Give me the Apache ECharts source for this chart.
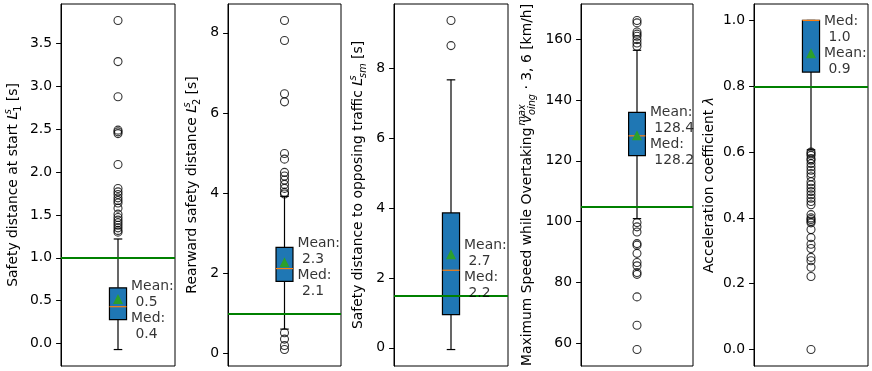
<!DOCTYPE html>
<html>
<head>
<meta charset="utf-8">
<script src="https://cdn.jsdelivr.net/npm/echarts@6/dist/echarts.min.js"></script>
<style>
  html, body { margin: 0; padding: 0; background: #fff; }
  #chart { width: 872px; height: 371px; }
</style>
</head>
<body>
<div id="chart"></div>
<script>
'use strict'

// five box plots, one per panel
var whiskerLow  = [-0.07, 0.61, -0.05, 101.0, 0.607];
var quart1      = [0.28, 1.80, 0.95, 121.7, 0.843];
var medians     = [0.43, 2.12, 2.22, 128.2, 1.0];
var quart3      = [0.65, 2.65, 3.86, 135.9, 1.0];
var whiskerHigh = [1.22, 3.92, 7.67, 156.3, 1.0];
var means       = [0.52, 2.28, 2.68, 128.4, 0.90];
var thresholds  = [1.0, 1.0, 1.5, 105, 0.8];

var outliers1 = [3.77, 3.29, 2.88, 2.49, 2.47, 2.45, 2.09, 1.81, 1.77, 1.74, 1.70, 1.67,
    1.64, 1.58, 1.51, 1.47, 1.44, 1.41, 1.38, 1.35, 1.32, 1.30];
var outliers2 = [8.31, 7.81, 6.48, 6.28, 4.99, 4.85, 4.52, 4.43, 4.33, 4.22, 4.12, 4.02,
    3.98, 0.52, 0.36, 0.20, 0.10];
var outliers3 = [9.37, 8.65];
var outliers4 = [166.1, 165.3, 162.3, 161.6, 160.9, 159.8, 158.7, 157.6, 99.7, 98.3, 96.6,
    92.8, 92.3, 89.6, 86.6, 85.5, 83.3, 82.7, 75.3, 66.0, 58.0];
var outliers5 = [0.60, 0.595, 0.59, 0.58, 0.575, 0.565, 0.555, 0.545, 0.535, 0.525, 0.51,
    0.50, 0.49, 0.48, 0.47, 0.46, 0.45, 0.44, 0.41, 0.40, 0.395, 0.39, 0.385, 0.365, 0.34,
    0.32, 0.307, 0.28, 0.27, 0.25, 0.222, 0.0];

var ticks1 = [0, 0.5, 1, 1.5, 2, 2.5, 3, 3.5];
var ticks2 = [0, 2, 4, 6, 8];
var ticks3 = [0, 2, 4, 6, 8];
var ticks4 = [60, 80, 100, 120, 140, 160];
var ticks5 = [0, 0.2, 0.4, 0.6, 0.8, 1.0];
var tickDecimals = [1, 0, 0, 0, 1];

var yNames = [
    'Safety distance at start {it|L}{sup|s}{sub|1} [s]',
    'Rearward safety distance {it|L}{sup|s}{sub|2} [s]',
    'Safety distance to opposing traffic {it|L}{sup|s}{subi|sm} [s]',
    'Maximum Speed while Overtaking {it|v}{supw|max}{subi|oing} \u00b7 3, 6 [km/h]',
    'Acceleration coefficient {it|\u03bb}'
];
var medFirst = [false, false, false, false, true];

var outliers = [outliers1, outliers2, outliers3, outliers4, outliers5];
var ticks = [ticks1, ticks2, ticks3, ticks4, ticks5];

// layout
var FONT = 'DejaVu Sans';
var FS = 13.9;
var SFS = 9.7;
var gridLeft = [61, 228, 394, 581, 754];
var gridWidth = [114, 113, 114, 112, 114];
var nameGaps = [38, 26, 26, 44, 34];
var labelY = [0.39, 2.15, 2.24, 128.1, 0.925];
var BOX_W = 0.15;

function renderBox(params, api) {
    var x = api.value(0);
    var lo = api.coord([x, api.value(1)]);
    var b1 = api.coord([x, api.value(2)]);
    var md = api.coord([x, api.value(3)]);
    var b3 = api.coord([x, api.value(4)]);
    var hi = api.coord([x, api.value(5)]);
    var half = api.size([BOX_W, 0])[0] / 2;
    var cx = lo[0];
    var black = { stroke: '#000', lineWidth: 1.2 };
    return {
        type: 'group',
        children: [
            { type: 'line', shape: { x1: cx, y1: lo[1], x2: cx, y2: b1[1] }, style: black },
            { type: 'line', shape: { x1: cx, y1: b3[1], x2: cx, y2: hi[1] }, style: black },
            { type: 'line', shape: { x1: cx - half / 2, y1: lo[1], x2: cx + half / 2, y2: lo[1] }, style: black },
            { type: 'line', shape: { x1: cx - half / 2, y1: hi[1], x2: cx + half / 2, y2: hi[1] }, style: black },
            { type: 'rect', shape: { x: cx - half, y: b3[1], width: 2 * half, height: b1[1] - b3[1] },
              style: { fill: '#1f77b4', stroke: '#000', lineWidth: 1.2 } },
            { type: 'line', shape: { x1: cx - half, y1: md[1], x2: cx + half, y2: md[1] },
              style: { stroke: '#ff7f0e', lineWidth: 1.2 } }
        ]
    };
}

var grids = [], xAxes = [], yAxes = [], series = [];

for (var i = 0; i < 5; i++) {
    var lo = Math.min(whiskerLow[i], Math.min.apply(null, outliers[i]));
    var hi = Math.max(whiskerHigh[i], Math.max.apply(null, outliers[i]));
    var pad = (hi - lo) * 0.05;
    var dec = tickDecimals[i];

    grids.push({
        left: gridLeft[i], top: 4, width: gridWidth[i], height: 362,
        show: true, borderColor: '#000', borderWidth: 1
    });
    xAxes.push({ type: 'value', gridIndex: i, min: 0.5, max: 1.5, show: false });
    yAxes.push({
        type: 'value', gridIndex: i, min: lo - pad, max: hi + pad,
        name: yNames[i], nameLocation: 'middle', nameGap: nameGaps[i],
        nameTextStyle: {
            fontFamily: FONT, fontSize: FS, color: '#000', lineHeight: 20,
            rich: {
                it: { fontFamily: FONT, fontSize: FS, fontStyle: 'italic', color: '#000', lineHeight: 20 },
                sup: { fontFamily: FONT, fontSize: SFS, fontStyle: 'italic', verticalAlign: 'top',
                       lineHeight: 12, color: '#000', width: 0 },
                supw: { fontFamily: FONT, fontSize: SFS, fontStyle: 'italic', verticalAlign: 'top',
                       lineHeight: 12, color: '#000', width: 0 },
                sub: { fontFamily: FONT, fontSize: SFS, verticalAlign: 'bottom', lineHeight: 12, color: '#000' },
                subi: { fontFamily: FONT, fontSize: SFS, fontStyle: 'italic', verticalAlign: 'bottom',
                        lineHeight: 12, color: '#000' }
            }
        },
        axisLine: { show: true, lineStyle: { color: '#000', width: 1 } },
        axisTick: { show: true, length: 4.9, lineStyle: { color: '#000' }, customValues: ticks[i] },
        axisLabel: {
            fontFamily: FONT, fontSize: FS, color: '#000', margin: 9,
            customValues: ticks[i],
            formatter: (function (d) { return function (v) { return v.toFixed(d); }; })(dec)
        },
        splitLine: { show: false }
    });

    series.push({
        type: 'custom', xAxisIndex: i, yAxisIndex: i,
        renderItem: renderBox,
        data: [[1, whiskerLow[i], quart1[i], medians[i], quart3[i], whiskerHigh[i]]],
        z: 2
    });
    series.push({
        type: 'scatter', xAxisIndex: i, yAxisIndex: i,
        symbol: 'circle', symbolSize: 8,
        itemStyle: { color: 'rgba(0,0,0,0)', borderColor: '#000', borderWidth: 1.1 },
        data: outliers[i].map(function (v) { return [1, v]; }),
        z: 3
    });
    series.push({
        type: 'scatter', xAxisIndex: i, yAxisIndex: i,
        symbol: 'triangle', symbolSize: 10,
        itemStyle: { color: '#2ca02c', opacity: 1 },
        data: [[1, means[i]]],
        z: 4,
        markLine: {
            silent: true, symbol: 'none', animation: false,
            label: { show: false },
            lineStyle: { color: '#008000', width: 2, type: 'solid', opacity: 1 },
            data: [{ yAxis: thresholds[i] }]
        }
    });
    var meanTxt = 'Mean:\n ' + means[i].toFixed(1);
    var medTxt = 'Med:\n ' + medians[i].toFixed(1);
    series.push({
        type: 'scatter', xAxisIndex: i, yAxisIndex: i,
        symbolSize: 0,
        data: [[1.115, labelY[i]]],
        label: {
            show: true, position: 'right', distance: 0,
            fontFamily: FONT, fontSize: FS, lineHeight: 16, color: '#000',
            formatter: medFirst[i] ? medTxt + '\n' + meanTxt : meanTxt + '\n' + medTxt
        },
        z: 5
    });
}

var chart = echarts.init(document.getElementById('chart'), null, { renderer: 'canvas' });
chart.setOption({
    animation: false,
    backgroundColor: '#fff',
    grid: grids,
    xAxis: xAxes,
    yAxis: yAxes,
    series: series
});
</script>
</body>
</html>
